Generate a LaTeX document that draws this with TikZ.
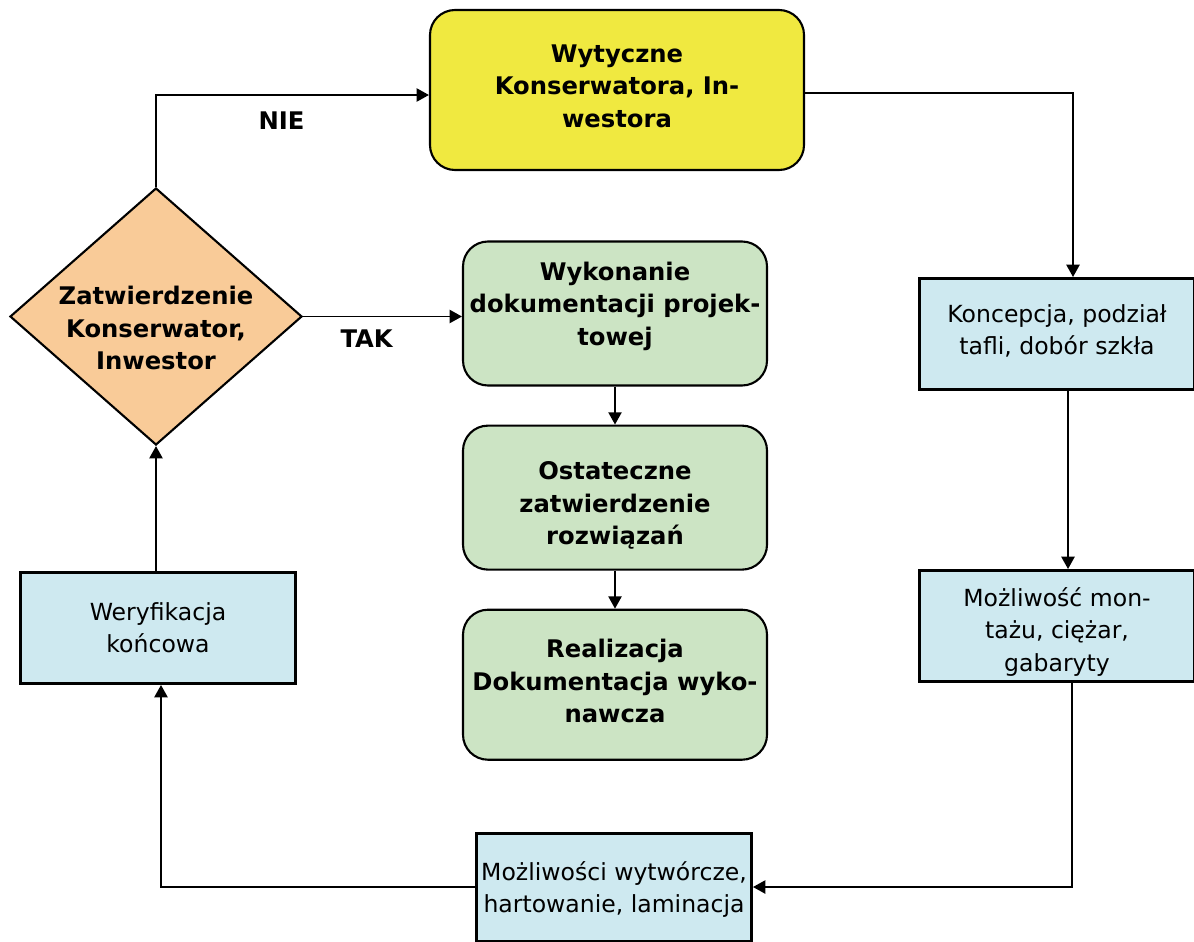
\documentclass[tikz,border=0pt]{standalone}
\usepackage{fontspec}
\setmainfont{DejaVu Sans}
\usepackage{xcolor}
\usetikzlibrary{shapes.geometric, arrows.meta, positioning}

\definecolor{wytyellow}{RGB}{240,233,64}
\definecolor{decorange}{RGB}{249,203,152}
\definecolor{stepgreen}{RGB}{204,228,196}
\definecolor{checkblue}{RGB}{206,233,240}

\begin{document}
\begin{tikzpicture}[
    node distance=0.76cm and 1cm,
    textshift/.style={text height=#1, text depth=0pt},
    roundbox/.style={rectangle, draw, rounded corners=0.5cm, line width=1.2pt, align=center, inner xsep=2pt,
        font=\fontsize{13.8}{18.5}\selectfont\bfseries},
    greenbox/.style={roundbox, fill=stepgreen, minimum width=6.08cm, minimum height=2.88cm},
    squarebox/.style={rectangle, draw, line width=1.7pt, fill=checkblue, align=center, inner xsep=2pt,
        minimum width=5.5cm, minimum height=2.22cm, font=\fontsize{13.4}{18.5}\selectfont},
    decision/.style={diamond, draw, line width=1.2pt, fill=decorange, inner sep=-0.15cm, aspect=1.136,
        minimum width=5.84cm, minimum height=5.14cm, align=center,
        font=\fontsize{13.8}{18.5}\selectfont\bfseries},
    arrow/.style={-{Triangle[length=7pt, width=7.5pt]}, line width=1pt},
    label/.style={font=\fontsize{13.8}{16}\selectfont\bfseries}
]
    \useasboundingbox (0,0) rectangle (23.88,-18.82);

    % Top and decision
    \node[roundbox, fill=wytyellow, minimum width=7.48cm, minimum height=3.2cm, textshift=42.4pt] (wytyczne)
        at (12.34,-1.8) {Wytyczne\\Konserwatora, In-\\westora};
    \node[decision, textshift=60.6pt] (zatw) at (3.12,-6.33) {Zatwierdzenie\\Konserwator,\\Inwestor};

    % Middle column
    \node[greenbox, textshift=36pt] (projekt) at (12.3,-6.27) {Wykonanie\\dokumentacji projek-\\towej};
    \node[greenbox, textshift=53.5pt, below=of projekt] (ostat) {Ostateczne\\zatwierdzenie\\rozwiązań};
    \node[greenbox, textshift=43pt, minimum height=3cm, below=of ostat] (realiz) {Realizacja\\Dokumentacja wyko-\\nawcza};

    % Outer loop
    \node[squarebox, textshift=23.7pt] (koncepcja) at (21.14,-6.68) {Koncepcja, podział\\tafli, dobór szkła};
    \node[squarebox, textshift=51.4pt] (montaz) at (21.14,-12.52) {Możliwość mon-\\tażu, ciężar,\\gabaryty};
    \node[squarebox, textshift=29.5pt, minimum height=2.16cm] (wytworcze) at (12.28,-17.74)
        {Możliwości wytwórcze,\\hartowanie, laminacja};
    \node[squarebox, textshift=28.3pt] (weryf) at (3.16,-12.56) {Weryfikacja\\końcowa};

    % Arrows
    \draw[arrow] (zatw.north) |- ([yshift=-0.1cm]wytyczne.west) node[label, pos=0.73, below=6pt] {NIE};
    \draw[arrow] ([yshift=-0.06cm]wytyczne.east) -| ([xshift=0.32cm]koncepcja.north);
    \draw[arrow] ([xshift=0.22cm]koncepcja.south) -- ([xshift=0.22cm]montaz.north);
    \draw[arrow] ([xshift=0.3cm]montaz.south) |- (wytworcze.east);
    \draw[arrow] (wytworcze.west) -| ([xshift=0.06cm]weryf.south);
    \draw[arrow] (weryf.north -| zatw.south) -- (zatw.south);
    \draw[arrow] (zatw.east) -- (zatw.east -| projekt.west) node[label, pos=0.4, below=4pt] {TAK};
    \draw[arrow] (projekt) -- (ostat);
    \draw[arrow] (ostat) -- (realiz);

\end{tikzpicture}
\end{document}
